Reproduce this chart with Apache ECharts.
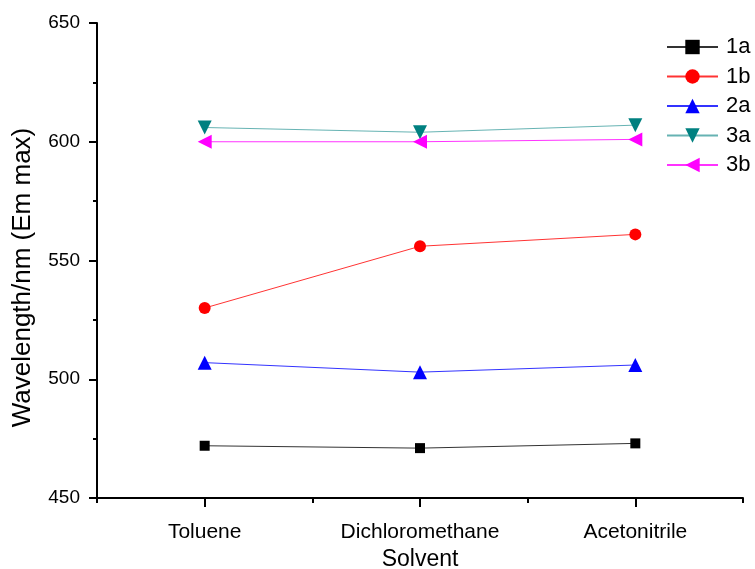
<!DOCTYPE html>
<html><head><meta charset="utf-8">
<script src="https://cdn.jsdelivr.net/npm/echarts@6/dist/echarts.min.js"></script>
<style>html,body{margin:0;padding:0;background:#fff}#c{width:755px;height:569px}</style>
</head><body><div id="c"></div>
<script>
const categories = ['Toluene', 'Dichloromethane', 'Acetonitrile'];
const s1a = [472, 471, 473];
const s1b = [530, 556, 561];
const s2a = [507, 503, 506];
const s3a = [606, 604, 607];
const s3b = [600, 600, 601];
const seriesNames = ['1a', '1b', '2a', '3a', '3b'];
const colors = ['#000000', '#FF0000', '#0000FF', '#008080', '#FF00FF'];
const symbols = ['rect', 'circle', 'triangle', 'triangle', 'triangle'];
const rotations = [0, 0, 0, 180, 90];
const sizes = [10, 12, 14, 14, 14];
const values = [s1a, s1b, s2a, s3a, s3b];
const font = 'Liberation Sans, Arial, sans-serif';

const chart = echarts.init(document.getElementById('c'));
chart.setOption({
  animation: false,
  backgroundColor: '#fff',
  grid: { left: 97, right: 12, top: 23, bottom: 71, outerBoundsMode: 'none', containLabel: false },
  legend: {
    orient: 'vertical', left: 661, top: 31,
    itemWidth: 51, itemHeight: 18, itemGap: 7.5,
    textStyle: { fontFamily: font, fontSize: 22, color: '#000', padding: [0, 0, 0, 3] },
    data: seriesNames
  },
  xAxis: [{
    type: 'category', data: categories, boundaryGap: true,
    name: 'Solvent', nameLocation: 'middle', nameGap: 46,
    nameTextStyle: { fontFamily: font, fontSize: 23, color: '#000', verticalAlign: 'top' },
    axisLine: { lineStyle: { color: '#000', width: 2 } },
    axisTick: { show: true, length: 5, inside: false, lineStyle: { color: '#000', width: 2 } },
    axisLabel: { fontFamily: font, fontSize: 21, color: '#000', margin: 24 },
    splitLine: { show: false }
  }, {
    type: 'category', data: categories, boundaryGap: true, position: 'bottom',
    axisLine: { show: false },
    axisTick: { show: true, alignWithLabel: true, length: 9, lineStyle: { color: '#000', width: 2 } },
    axisLabel: { show: false },
    splitLine: { show: false }
  }],
  yAxis: {
    type: 'value', min: 450, max: 650, interval: 50,
    name: 'Wavelength/nm (Em max)', nameLocation: 'middle', nameGap: 61,
    nameTextStyle: { fontFamily: font, fontSize: 26, color: '#000', padding: [0, 34, 0, 0] },
    axisLine: { show: true, lineStyle: { color: '#000', width: 2 } },
    axisTick: { show: true, length: 8, lineStyle: { color: '#000', width: 2 } },
    minorTick: { show: true, splitNumber: 2, length: 4, lineStyle: { color: '#000', width: 2 } },
    axisLabel: { fontFamily: font, fontSize: 19, color: '#000', margin: 17 },
    splitLine: { show: false }
  },
  series: seriesNames.map((n, i) => ({
    name: n, type: 'line', xAxisIndex: 0, data: values[i],
    symbol: symbols[i], symbolRotate: rotations[i], symbolSize: sizes[i],
    showAllSymbol: true,
    itemStyle: { color: colors[i] },
    lineStyle: { color: colors[i], width: 1, opacity: i === 3 ? 0.6 : 0.8 }
  }))
});
</script></body></html>
